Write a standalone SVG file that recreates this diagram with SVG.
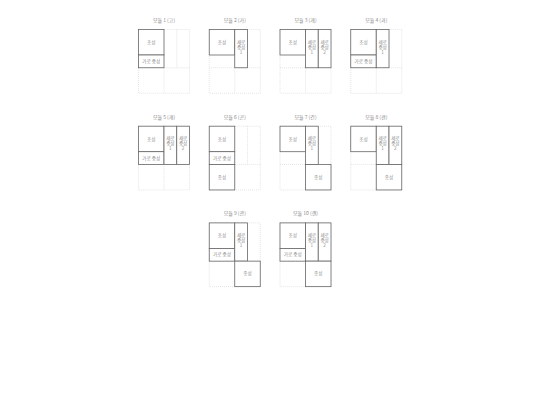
<svg xmlns="http://www.w3.org/2000/svg" xmlns:xlink="http://www.w3.org/1999/xlink" width="540" height="405" viewBox="0 0 540 405">
<style>
.bg{fill:#ffffff}
.grid{fill:none;stroke:#c8c8c8;stroke-width:0.5;stroke-dasharray:1 1}
.box{fill:#ffffff;stroke:#666666;stroke-width:0.8}
.title{font-family:"Noto Sans CJK KR","Liberation Sans",sans-serif;font-size:5px;fill:#8a8a8a;text-anchor:middle}
.lbl{font-family:"Noto Sans CJK KR","Liberation Sans",sans-serif;font-size:4.6px;fill:#8a8a8a;text-anchor:middle}
</style>
<defs>
<g id="grid">
<rect class="grid" x="0" y="0" width="51" height="63.75"/>
<line class="grid" x1="25.5" y1="0" x2="25.5" y2="63.75"/>
<line class="grid" x1="38.25" y1="0" x2="38.25" y2="38.25"/>
<line class="grid" x1="0" y1="38.25" x2="51" y2="38.25"/>
</g>
<g id="cho">
<rect class="box" x="0" y="0" width="25.5" height="25.5"/>
<text class="lbl" x="12.75" y="14.4">초성</text>
</g>
<g id="garo">
<rect class="box" x="0" y="25.5" width="25.5" height="12.75"/>
<text class="lbl" x="12.75" y="33.5">가로 중성</text>
</g>
<g id="sero1">
<rect class="box" x="25.5" y="0" width="12.75" height="38.25"/>
<text class="lbl" x="31.875" y="14">세로</text>
<text class="lbl" x="31.875" y="19">중성</text>
<text class="lbl" x="31.875" y="24">1</text>
</g>
<g id="sero2">
<rect class="box" x="38.25" y="0" width="12.75" height="38.25"/>
<text class="lbl" x="44.625" y="14">세로</text>
<text class="lbl" x="44.625" y="19">중성</text>
<text class="lbl" x="44.625" y="24">2</text>
</g>
<g id="jongL">
<rect class="box" x="0" y="38.25" width="25.5" height="25.5"/>
<text class="lbl" x="12.75" y="52.6">종성</text>
</g>
<g id="jongR">
<rect class="box" x="25.5" y="38.25" width="25.5" height="25.5"/>
<text class="lbl" x="38.25" y="52.6">종성</text>
</g>
</defs>
<rect class="bg" x="0" y="0" width="540" height="405"/>

<g id="module1" transform="translate(138.5,29.5)">
<use xlink:href="#grid"/>
<text class="title" x="25.5" y="-7.6">모듈 1 (고)</text>
<use xlink:href="#cho"/><use xlink:href="#garo"/>
</g>
<g id="module2" transform="translate(209.25,29.5)">
<use xlink:href="#grid"/>
<text class="title" x="25.5" y="-7.6">모듈 2 (가)</text>
<use xlink:href="#cho"/><use xlink:href="#sero1"/>
</g>
<g id="module3" transform="translate(280,29.5)">
<use xlink:href="#grid"/>
<text class="title" x="25.5" y="-7.6">모듈 3 (개)</text>
<use xlink:href="#cho"/><use xlink:href="#sero1"/><use xlink:href="#sero2"/>
</g>
<g id="module4" transform="translate(350.75,29.5)">
<use xlink:href="#grid"/>
<text class="title" x="25.5" y="-7.6">모듈 4 (과)</text>
<use xlink:href="#cho"/><use xlink:href="#garo"/><use xlink:href="#sero1"/>
</g>

<g id="module5" transform="translate(138.5,126.2)">
<use xlink:href="#grid"/>
<text class="title" x="25.5" y="-7.6">모듈 5 (괘)</text>
<use xlink:href="#cho"/><use xlink:href="#garo"/><use xlink:href="#sero1"/><use xlink:href="#sero2"/>
</g>
<g id="module6" transform="translate(209.25,126.2)">
<use xlink:href="#grid"/>
<text class="title" x="25.5" y="-7.6">모듈 6 (곤)</text>
<use xlink:href="#cho"/><use xlink:href="#garo"/><use xlink:href="#jongL"/>
</g>
<g id="module7" transform="translate(280,126.2)">
<use xlink:href="#grid"/>
<text class="title" x="25.5" y="-7.6">모듈 7 (간)</text>
<use xlink:href="#cho"/><use xlink:href="#sero1"/><use xlink:href="#jongR"/>
</g>
<g id="module8" transform="translate(350.75,126.2)">
<use xlink:href="#grid"/>
<text class="title" x="25.5" y="-7.6">모듈 8 (갠)</text>
<use xlink:href="#cho"/><use xlink:href="#sero1"/><use xlink:href="#sero2"/><use xlink:href="#jongR"/>
</g>

<g id="module9" transform="translate(209.25,222.9)">
<use xlink:href="#grid"/>
<text class="title" x="25.5" y="-7.6">모듈 9 (관)</text>
<use xlink:href="#cho"/><use xlink:href="#garo"/><use xlink:href="#sero1"/><use xlink:href="#jongR"/>
</g>
<g id="module10" transform="translate(280,222.9)">
<use xlink:href="#grid"/>
<text class="title" x="25.5" y="-7.6">모듈 10 (괜)</text>
<use xlink:href="#cho"/><use xlink:href="#garo"/><use xlink:href="#sero1"/><use xlink:href="#sero2"/><use xlink:href="#jongR"/>
</g>
<g id="connectors"></g>
</svg>
